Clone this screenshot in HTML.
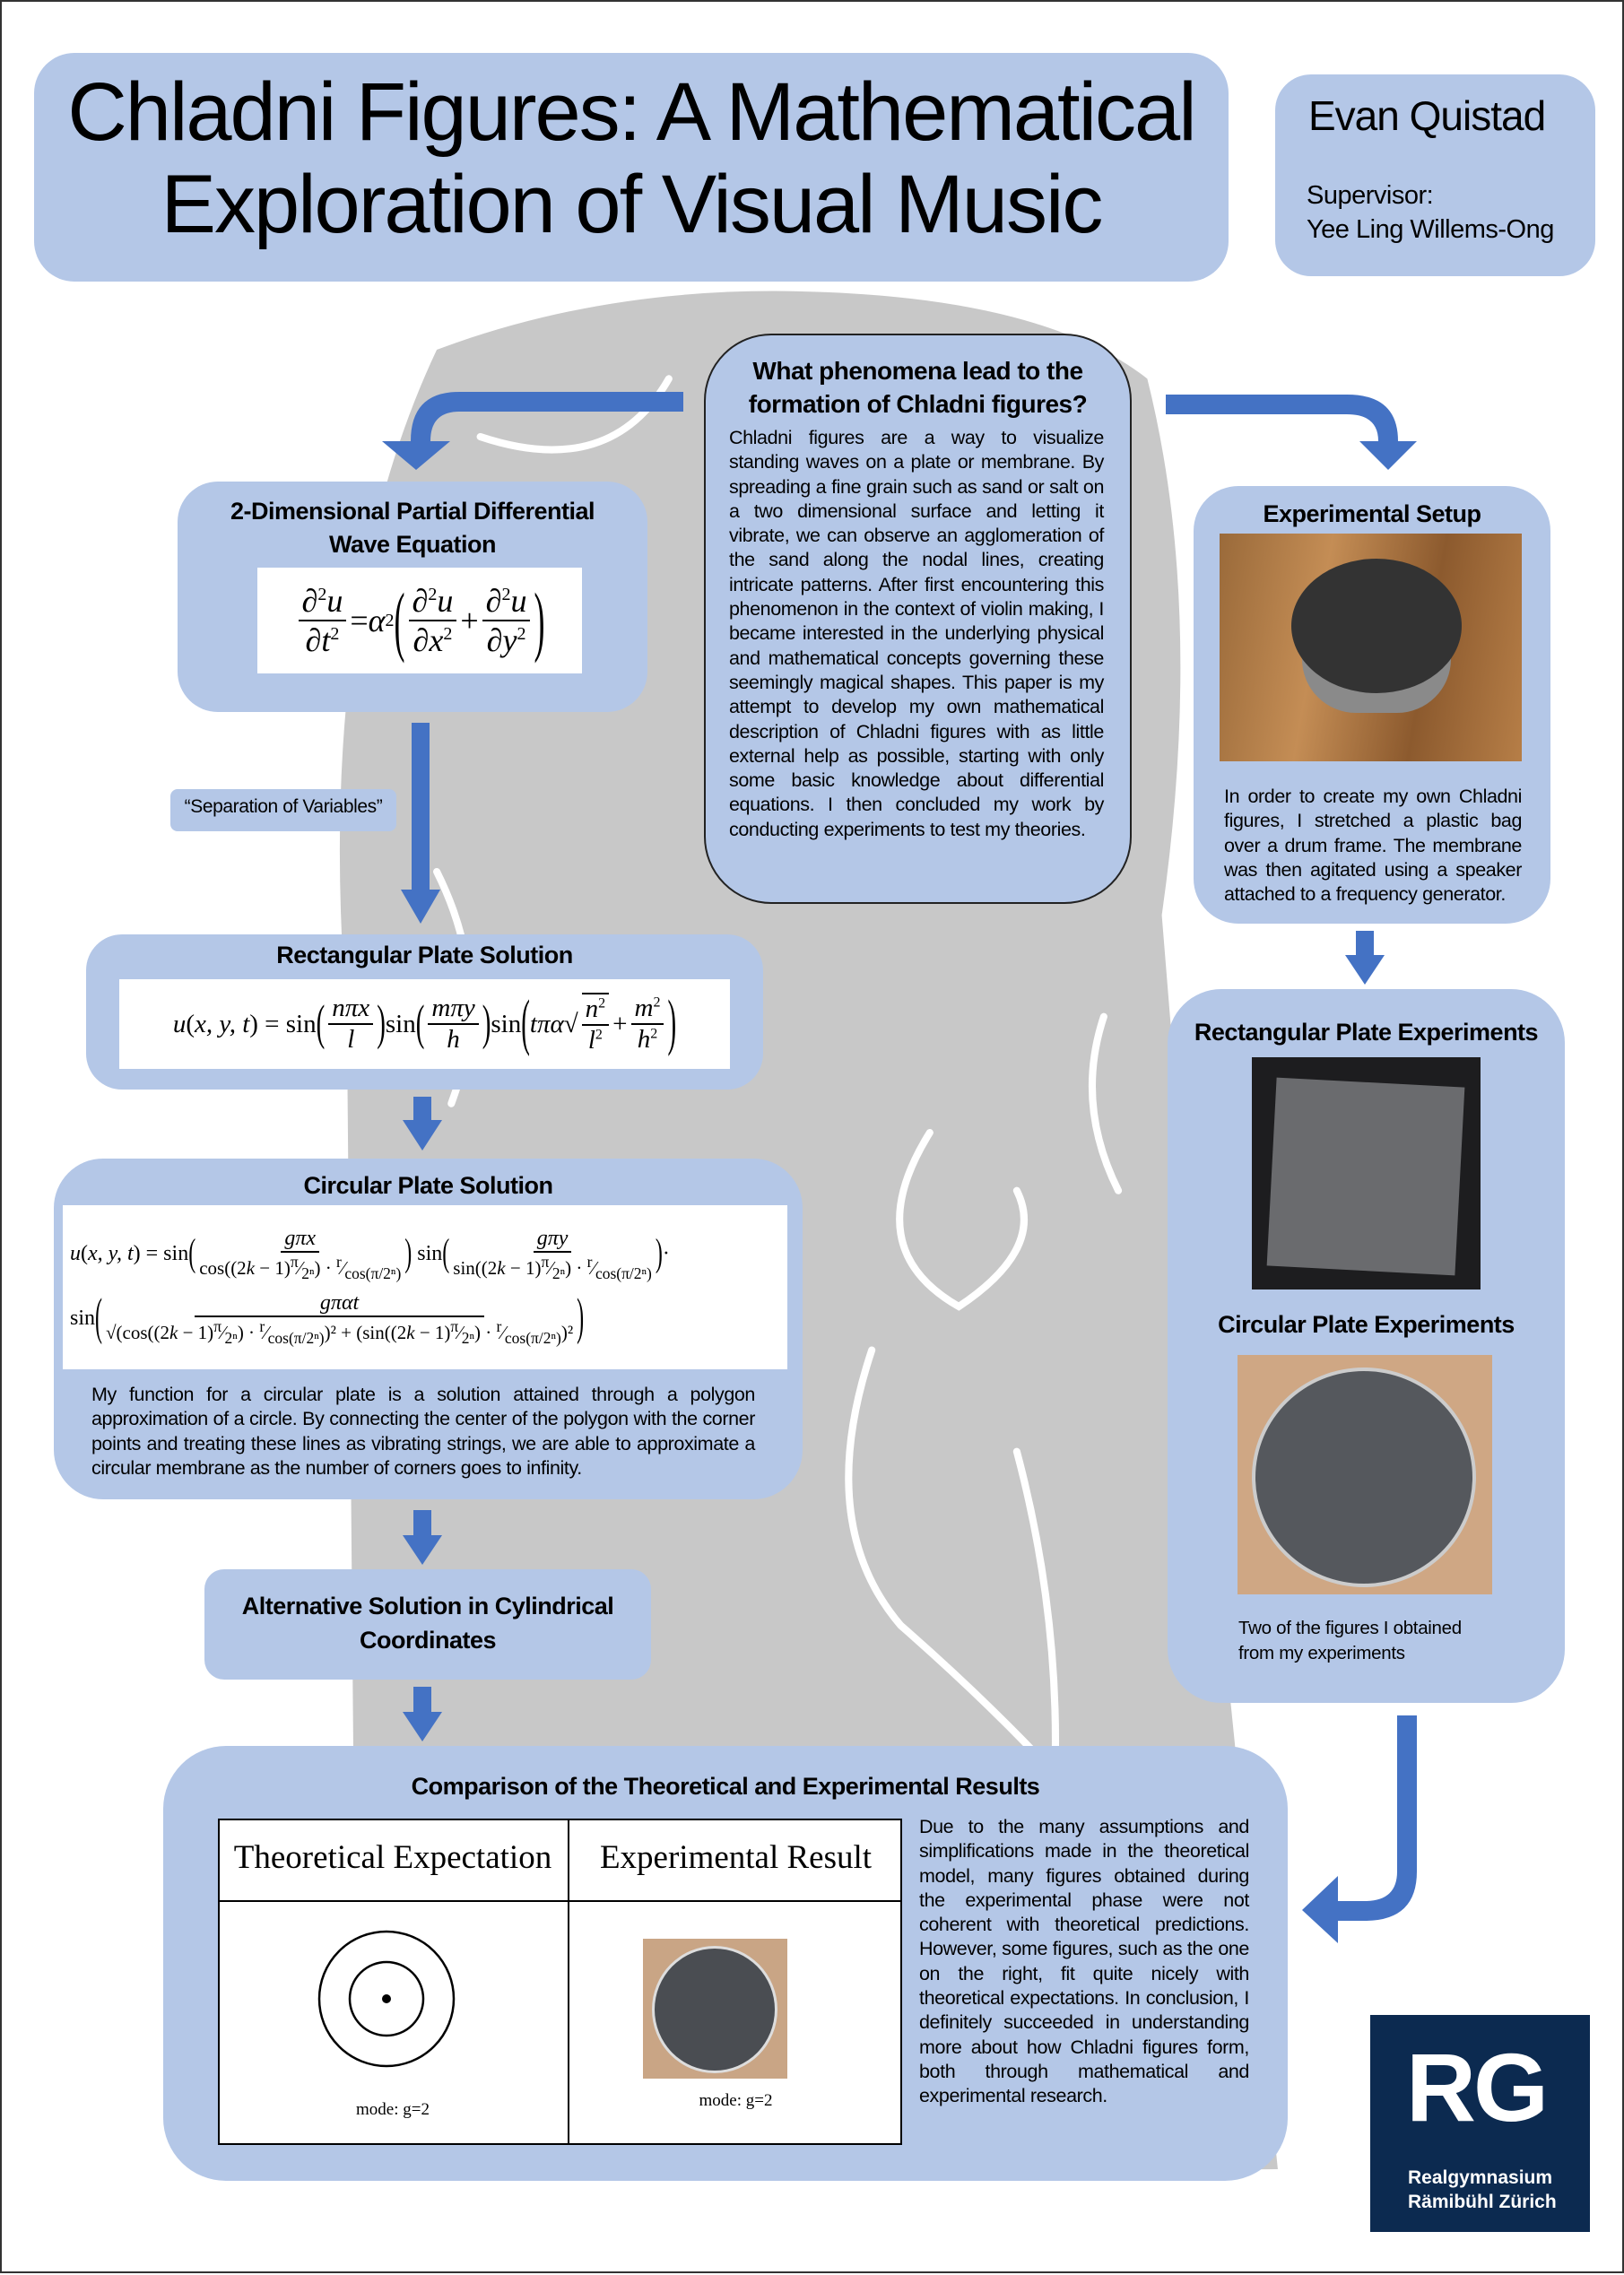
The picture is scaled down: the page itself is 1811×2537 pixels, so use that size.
<!DOCTYPE html>
<html><head><meta charset="utf-8"><style>
*{margin:0;padding:0;box-sizing:border-box}
body{width:1811px;height:2535px;position:relative;background:#fff;font-family:"Liberation Sans",sans-serif;overflow:hidden;border:2px solid #333}
.a{position:absolute}
.box{position:absolute;background:#b4c7e7;border-radius:50px}
.t{font-weight:bold;font-size:27px;text-align:center;color:#000;font-family:"Liberation Sans",sans-serif;letter-spacing:-0.5px}
.p{font-size:21.5px;line-height:27.3px;text-align:justify;letter-spacing:-0.4px}
.eq{position:absolute;background:#fff;font-family:"Liberation Serif",serif;display:flex;align-items:center;justify-content:center;white-space:nowrap;color:#000}
.fr{display:inline-flex;flex-direction:column;align-items:center;vertical-align:middle;margin:0 4px}
.fr>span:first-child{border-bottom:2px solid #000;padding:0 4px}
.i{font-style:italic}
.bp{display:inline-block;transform:scaleY(2.4);font-weight:100;vertical-align:middle}
</style></head><body>
<svg class="a" style="left:0;top:0" width="1811" height="2535" viewBox="0 0 1120 1568" preserveAspectRatio="none">
<path d="M300,240 Q420,195 560,200 Q720,205 790,260 Q830,420 800,630 L830,1000 L880,1495 L245,1500 L238,700 Q215,420 300,240Z" fill="#c8c8c8"/>
<g fill="none" stroke="#fff" stroke-width="5" stroke-linecap="round">
<path d="M330,300 Q420,330 460,260"/>
<path d="M640,780 Q590,860 660,900 Q720,860 700,820"/>
<path d="M600,930 Q560,1050 620,1120 Q700,1190 760,1260"/>
<path d="M300,600 Q340,680 310,760"/>
<path d="M760,700 Q740,760 770,820"/>
<path d="M700,1000 Q740,1150 720,1300"/>
</g>
</svg>

<div class="box" style="left:36px;top:57px;width:1332px;height:255px;border-radius:45px"></div>
<div class="a" style="left:36px;top:72px;width:1332px;text-align:center;font-size:92px;line-height:103px;letter-spacing:-2px">Chladni Figures: A Mathematical<br>Exploration of Visual Music</div>
<div class="box" style="left:1420px;top:81px;width:357px;height:225px;border-radius:40px"></div>
<div class="a" style="left:1457px;top:100px;font-size:46px;letter-spacing:-1px">Evan Quistad</div>
<div class="a" style="left:1455px;top:197px;font-size:29px;line-height:38px;letter-spacing:-0.5px">Supervisor:<br>Yee Ling Willems-Ong</div>

<div class="box" style="left:783px;top:370px;width:477px;height:636px;border-radius:75px;border:2px solid #222"></div>
<div class="a t" style="left:783px;top:393px;width:477px;font-size:28px;line-height:37px">What phenomena lead to the<br>formation of Chladni figures?</div>
<div class="a p" style="left:811px;top:473px;width:418px">Chladni figures are a way to visualize standing waves on a plate or membrane. By spreading a fine grain such as sand or salt on a two dimensional surface and letting it vibrate, we can observe an agglomeration of the sand along the nodal lines, creating intricate patterns. After first encountering this phenomenon in the context of violin making, I became interested in the underlying physical and mathematical concepts governing these seemingly magical shapes. This paper is my attempt to develop my own mathematical description of Chladni figures with as little external help as possible, starting with only some basic knowledge about differential equations. I then concluded my work by conducting experiments to test my theories.</div>

<svg class="a" style="left:0;top:0" width="1811" height="2535">
<g fill="#4472c4">
<path d="M760,435 L760,457 L510,457 Q478,457 478,490 L500,490 L462,522 L424,490 L456,490 Q456,435 510,435 Z"/>
<path d="M1298,438 L1500,438 Q1557,438 1557,490 L1578,490 L1546,522 L1514,490 L1535,490 Q1535,460 1500,460 L1298,460 Z"/>
<path d="M1556,1911 L1578,1911 L1578,2085 Q1578,2140 1520,2140 L1490,2140 L1490,2165 L1450,2128 L1490,2090 L1490,2118 L1520,2118 Q1556,2118 1556,2085 Z"/>
<rect x="457" y="804" width="20" height="190"/><path d="M445,990 L489,990 L467,1028Z"/>
<rect x="459" y="1221" width="20" height="28"/><path d="M447,1247 L491,1247 L469,1281Z"/>
<rect x="459" y="1682" width="20" height="30"/><path d="M447,1710 L491,1710 L469,1743Z"/>
<rect x="459" y="1879" width="20" height="30"/><path d="M447,1907 L491,1907 L469,1940Z"/>
<rect x="1510" y="1036" width="20" height="30"/><path d="M1498,1063 L1542,1063 L1520,1096Z"/>
</g></svg>

<div class="box" style="left:196px;top:535px;width:524px;height:257px;border-radius:45px"></div>
<div class="a t" style="left:196px;top:550px;width:524px;line-height:37px">2-Dimensional Partial Differential<br>Wave Equation</div>
<div class="eq" style="left:285px;top:631px;width:362px;height:118px;font-size:36px">
<span class="fr"><span>∂<sup style="font-size:20px">2</sup><span class="i">u</span></span><span>∂<span class="i">t</span><sup style="font-size:20px">2</sup></span></span>= <span class="i">α</span><sup style="font-size:20px">2</sup><span class="bp">(</span><span class="fr"><span>∂<sup style="font-size:20px">2</sup><span class="i">u</span></span><span>∂<span class="i">x</span><sup style="font-size:20px">2</sup></span></span>+<span class="fr"><span>∂<sup style="font-size:20px">2</sup><span class="i">u</span></span><span>∂<span class="i">y</span><sup style="font-size:20px">2</sup></span></span><span class="bp">)</span></div>

<div class="box" style="left:188px;top:878px;width:252px;height:47px;border-radius:8px"></div>
<div class="a" style="left:188px;top:886px;width:252px;text-align:center;font-size:21px;letter-spacing:-0.4px">“Separation of Variables”</div>

<div class="box" style="left:94px;top:1040px;width:755px;height:173px;border-radius:40px"></div>
<div class="a t" style="left:94px;top:1048px;width:755px">Rectangular Plate Solution</div>
<div class="eq" style="left:131px;top:1090px;width:681px;height:100px;font-size:29px">
<span class="i">u</span>(<span class="i">x, y, t</span>) = sin<span class="bp" style="transform:scaleY(1.9)">(</span><span class="fr"><span class="i">nπx</span><span class="i">l</span></span><span class="bp" style="transform:scaleY(1.9)">)</span> sin<span class="bp" style="transform:scaleY(1.9)">(</span><span class="fr"><span class="i">mπy</span><span class="i">h</span></span><span class="bp" style="transform:scaleY(1.9)">)</span> sin<span class="bp">(</span><span class="i">tπα</span>√<span class="fr" style="border-top:2px solid #000"><span><span class="i">n</span><sup style="font-size:16px">2</sup></span><span><span class="i">l</span><sup style="font-size:16px">2</sup></span></span>+<span class="fr"><span><span class="i">m</span><sup style="font-size:16px">2</sup></span><span><span class="i">h</span><sup style="font-size:16px">2</sup></span></span><span class="bp">)</span></div>

<div class="box" style="left:58px;top:1290px;width:835px;height:380px;border-radius:55px"></div>
<div class="a t" style="left:58px;top:1305px;width:835px">Circular Plate Solution</div>
<div class="eq" style="left:68px;top:1342px;width:808px;height:183px;font-size:24px;flex-direction:column;align-items:flex-start;padding-left:8px">
<div><span class="i">u</span>(<span class="i">x, y, t</span>) = sin<span class="bp" style="transform:scaleY(1.8)">(</span><span class="fr"><span class="i">gπx</span><span style="font-size:21px">cos((2<span class="i">k</span> − 1)<sup>π</sup>⁄<sub>2ⁿ</sub>) · <sup>r</sup>⁄<sub>cos(π/2ⁿ)</sub></span></span><span class="bp" style="transform:scaleY(1.8)">)</span> sin<span class="bp" style="transform:scaleY(1.8)">(</span><span class="fr"><span class="i">gπy</span><span style="font-size:21px">sin((2<span class="i">k</span> − 1)<sup>π</sup>⁄<sub>2ⁿ</sub>) · <sup>r</sup>⁄<sub>cos(π/2ⁿ)</sub></span></span><span class="bp" style="transform:scaleY(1.8)">)</span>·</div>
<div style="margin-top:8px">sin<span class="bp">(</span><span class="fr"><span style="padding:0 140px" class="i">gπαt</span><span style="font-size:21px">√(cos((2<span class="i">k</span> − 1)<sup>π</sup>⁄<sub>2ⁿ</sub>) · <sup>r</sup>⁄<sub>cos(π/2ⁿ)</sub>)² + (sin((2<span class="i">k</span> − 1)<sup>π</sup>⁄<sub>2ⁿ</sub>) · <sup>r</sup>⁄<sub>cos(π/2ⁿ)</sub>)²</span></span><span class="bp">)</span></div>
</div>
<div class="a p" style="left:100px;top:1540px;width:740px">My function for a circular plate is a solution attained through a polygon approximation of a circle. By connecting the center of the polygon with the corner points and treating these lines as vibrating strings, we are able to approximate a circular membrane as the number of corners goes to infinity.</div>

<div class="box" style="left:226px;top:1748px;width:498px;height:123px;border-radius:22px"></div>
<div class="a t" style="left:226px;top:1770px;width:498px;line-height:38px">Alternative Solution in Cylindrical<br>Coordinates</div>

<div class="box" style="left:180px;top:1945px;width:1254px;height:485px;border-radius:70px"></div>
<div class="a t" style="left:180px;top:1975px;width:1254px">Comparison of the Theoretical and Experimental Results</div>
<div class="a" style="left:241px;top:2026px;width:763px;height:364px;background:#fff;border:2px solid #000"></div>
<div class="a" style="left:241px;top:2117px;width:763px;height:2px;background:#000"></div>
<div class="a" style="left:631px;top:2026px;width:2px;height:364px;background:#000"></div>
<div class="a" style="left:241px;top:2048px;width:390px;text-align:center;font-family:'Liberation Serif',serif;font-size:37px">Theoretical Expectation</div>
<div class="a" style="left:633px;top:2048px;width:371px;text-align:center;font-family:'Liberation Serif',serif;font-size:37px">Experimental Result</div>
<svg class="a" style="left:340px;top:2140px" width="180" height="180"><circle cx="89" cy="87" r="75" fill="none" stroke="#000" stroke-width="2.5"/><circle cx="89" cy="87" r="41" fill="none" stroke="#000" stroke-width="2.5"/><circle cx="89" cy="87" r="5"/></svg>
<div class="a" style="left:241px;top:2340px;width:390px;text-align:center;font-family:'Liberation Serif',serif;font-size:19px">mode: g=2</div>
<div class="a" style="left:715px;top:2160px;width:161px;height:156px;background:#c9a585"><div class="a" style="left:10px;top:8px;width:140px;height:142px;border-radius:50%;background:#4a4d52;border:3px solid #ddd"></div></div>
<div class="a" style="left:633px;top:2330px;width:371px;text-align:center;font-family:'Liberation Serif',serif;font-size:19px">mode: g=2</div>
<div class="a p" style="left:1023px;top:2022px;width:368px">Due to the many assumptions and simplifications made in the theoretical model, many figures obtained during the experimental phase were not coherent with theoretical predictions. However, some figures, such as the one on the right, fit quite nicely with theoretical expectations. In conclusion, I definitely succeeded in understanding more about how Chladni figures form, both through mathematical and experimental research.</div>

<div class="box" style="left:1329px;top:540px;width:398px;height:488px;border-radius:50px"></div>
<div class="a t" style="left:1329px;top:556px;width:398px">Experimental Setup</div>
<div class="a" style="left:1358px;top:593px;width:337px;height:254px;background:linear-gradient(100deg,#9a6a3a,#c48d55,#8c5a2e,#b67e47)">
<div class="a" style="left:92px;top:120px;width:166px;height:80px;background:#8a8a8a;border-radius:0 0 60px 60px"></div>
<div class="a" style="left:80px;top:28px;width:190px;height:150px;border-radius:50%;background:#333"></div></div>
<div class="a p" style="left:1363px;top:873px;width:332px">In order to create my own Chladni figures, I stretched a plastic bag over a drum frame. The membrane was then agitated using a speaker attached to a frequency generator.</div>

<div class="box" style="left:1300px;top:1101px;width:443px;height:796px;border-radius:60px"></div>
<div class="a t" style="left:1300px;top:1134px;width:443px">Rectangular Plate Experiments</div>
<div class="a" style="left:1394px;top:1177px;width:255px;height:259px;background:#1d1d1f"><div class="a" style="left:22px;top:28px;width:210px;height:210px;background:#6a6b6e;transform:rotate(3deg)"></div></div>
<div class="a t" style="left:1300px;top:1460px;width:443px">Circular Plate Experiments</div>
<div class="a" style="left:1378px;top:1509px;width:284px;height:267px;background:#cfa784"><div class="a" style="left:16px;top:14px;width:250px;height:245px;border-radius:50%;background:#55585d;border:4px solid #ccc"></div></div>
<div class="a" style="left:1379px;top:1800px;font-size:20.5px;line-height:28px;letter-spacing:-0.3px">Two of the figures I obtained<br>from my experiments</div>

<div class="a" style="left:1526px;top:2245px;width:245px;height:242px;background:#0c2a50;color:#fff">
<div class="a" style="left:40px;top:18px;font-weight:bold;font-size:108px;letter-spacing:-3px">RG</div>
<div class="a" style="left:42px;top:168px;font-weight:bold;font-size:21px;line-height:27px">Realgymnasium<br>Rämibühl Zürich</div>
</div>
</body></html>
